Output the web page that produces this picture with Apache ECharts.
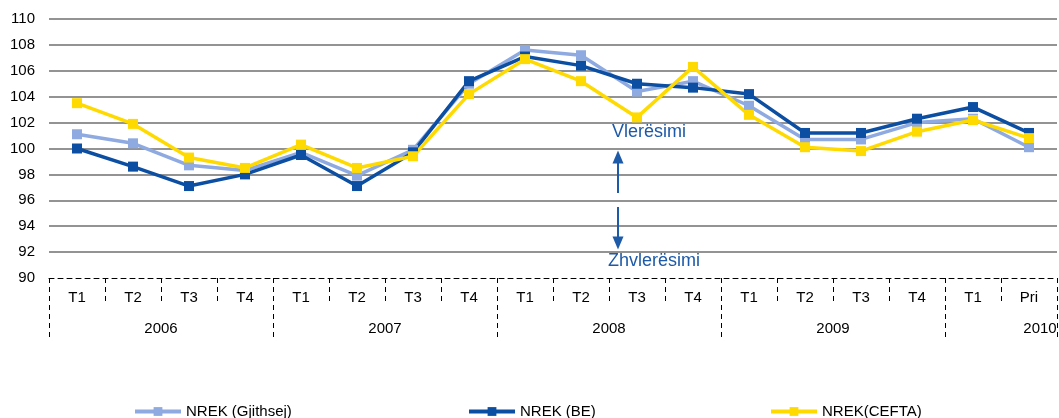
<!DOCTYPE html>
<html>
<head>
<meta charset="utf-8">
<script src="https://cdn.jsdelivr.net/npm/echarts@6/dist/echarts.min.js"></script>
<style>
  html, body { margin: 0; padding: 0; background: #fff; }
  #chart { width: 1059px; height: 418px; }
</style>
</head>
<body>
<div id="chart"></div>
<script>
// tremujoret dhe vitet
var quarters = ['T1', 'T2', 'T3', 'T4', 'T1', 'T2', 'T3', 'T4', 'T1', 'T2', 'T3', 'T4', 'T1', 'T2', 'T3', 'T4', 'T1', 'Pri']
var years = ['2006', '2007', '2008', '2009', '2010']
var yTicks = [90, 92, 94, 96, 98, 100, 102, 104, 106, 108, 110]

var gjithsej = [101.1, 100.4, 98.7, 98.3, 99.7, 97.9, 99.9, 105.0, 107.6, 107.2, 104.4, 105.2, 103.3, 100.7, 100.7, 102.0, 102.3, 100.1]
var be = [100.0, 98.6, 97.1, 98.0, 99.5, 97.1, 99.7, 105.2, 107.1, 106.4, 105.0, 104.7, 104.2, 101.2, 101.2, 102.3, 103.2, 101.2]
var cefta = [103.5, 101.9, 99.3, 98.5, 100.3, 98.5, 99.4, 104.2, 106.9, 105.2, 102.4, 106.3, 102.6, 100.1, 99.8, 101.3, 102.2, 100.8]

var font = 'Liberation Sans, Arial, sans-serif'
var annotColor = '#1d5aa8'

function lineSeries(name, data, color) {
  return {
    name: name,
    type: 'line',
    data: data,
    symbol: 'rect',
    symbolSize: 10,
    lineStyle: { width: 3.5, color: color },
    itemStyle: { color: color },
    z: 5
  }
}

function legendFor(name, left) {
  return {
    left: left,
    top: 399,
    data: [name],
    itemWidth: 46,
    itemHeight: 11,
    itemGap: 0,
    lineStyle: { width: 4 },
    textStyle: { fontSize: 15, color: '#000', fontFamily: font }
  }
}

var chart = echarts.init(document.getElementById('chart'))

var cefSeries = lineSeries('NREK(CEFTA)', cefta, '#ffda00')
cefSeries.markLine = {
  silent: true,
  symbol: ['none', 'triangle'],
  symbolSize: [11, 13],
  lineStyle: { color: annotColor, width: 2, type: 'solid' },
  label: { show: false },
  data: [
    [{ x: 618, y: 193 }, { x: 618, y: 157 }],
    [{ x: 618, y: 207 }, { x: 618, y: 243 }]
  ]
}

chart.setOption({
  backgroundColor: '#fff',
  animation: false,
  textStyle: { fontFamily: font },
  grid: { left: 49, right: 2, top: 19, bottom: 140, containLabel: false, outerBoundsMode: 'none' },
  legend: [
    legendFor('NREK (Gjithsej)', 128),
    legendFor('NREK (BE)', 462),
    legendFor('NREK(CEFTA)', 764)
  ],
  xAxis: [
    {
      type: 'category',
      data: quarters,
      position: 'bottom',
      z: 3,
      axisLine: { show: true, lineStyle: { color: '#000', width: 1, type: [5, 4] } },
      axisTick: { show: true, interval: 0, length: 24, lineStyle: { color: '#000', width: 1, type: [5, 4] } },
      axisLabel: { interval: 0, margin: 12, fontSize: 15, color: '#000' },
      splitLine: { show: false }
    },
    {
      // kufijtë e viteve
      type: 'value',
      min: 0,
      max: 18,
      interval: 4,
      position: 'bottom',
      z: 2,
      axisLine: { show: true, lineStyle: { color: '#fff', width: 3 } },
      axisTick: { show: true, length: 62, lineStyle: { color: '#000', width: 1, type: [5, 4] } },
      axisLabel: { show: false },
      splitLine: { show: false }
    },
    {
      // etiketat e viteve
      type: 'value',
      min: 0,
      max: 18,
      interval: 2,
      position: 'bottom',
      z: 2,
      axisLine: { show: false },
      axisTick: { show: false },
      splitLine: { show: false },
      axisLabel: {
        margin: 43,
        fontSize: 15,
        color: '#000',
        showMaxLabel: true,
        showMinLabel: true,
        formatter: function (v) {
          var i = (v - 2) / 4
          if (v === 18) return '{last|' + years[4] + '}'
          return Number.isInteger(i) && years[i] ? years[i] : ''
        },
        rich: { last: { fontSize: 15, color: '#000', padding: [0, 34, 0, 0] } }
      }
    }
  ],
  yAxis: {
    type: 'value',
    min: yTicks[0],
    max: yTicks[yTicks.length - 1],
    interval: 2,
    z: 0,
    axisLine: { show: false },
    axisTick: { show: false },
    axisLabel: { fontSize: 15, color: '#000', margin: 14 },
    splitLine: { show: true, lineStyle: { color: '#939393', width: 2 } }
  },
  series: [
    lineSeries('NREK (Gjithsej)', gjithsej, '#8eaae0'),
    lineSeries('NREK (BE)', be, '#0b4ea2'),
    cefSeries
  ],
  graphic: [
    { type: 'text', left: 612, top: 123, style: { text: 'Vlerësimi', fill: annotColor, font: '18px ' + font } },
    { type: 'text', left: 608, top: 252, style: { text: 'Zhvlerësimi', fill: annotColor, font: '18px ' + font } }
  ]
})
</script>
</body>
</html>
